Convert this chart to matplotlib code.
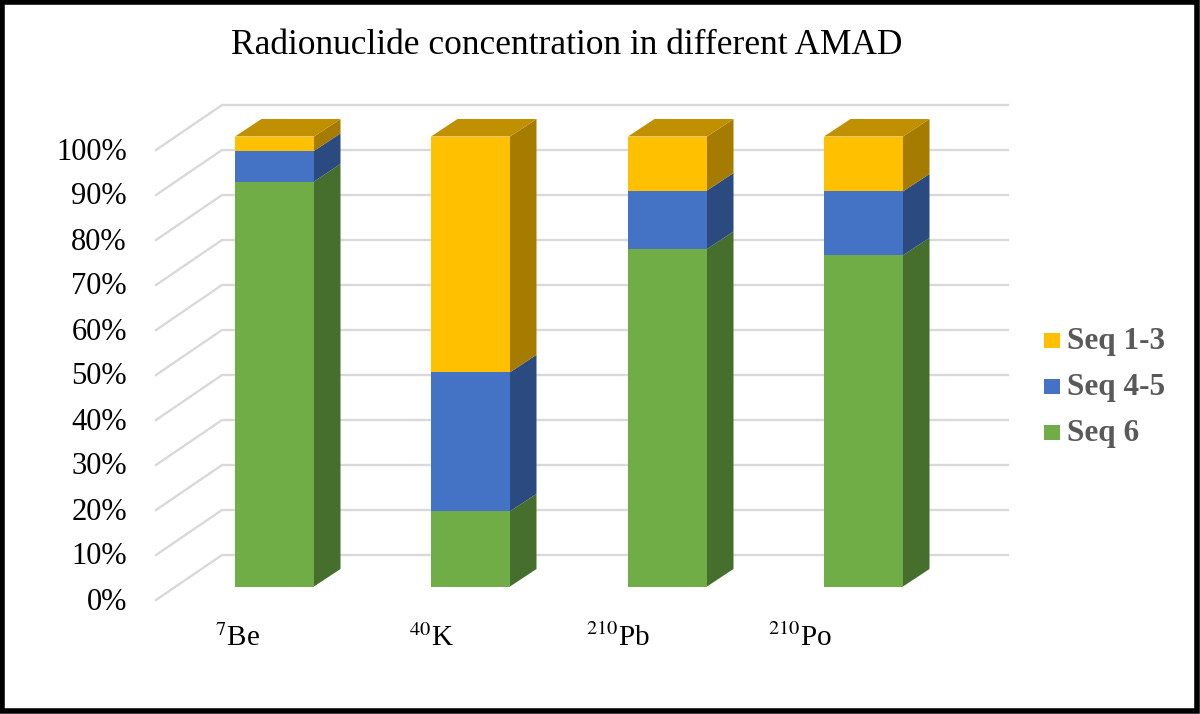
import matplotlib
matplotlib.use("Agg")
import matplotlib.pyplot as plt
from matplotlib.patches import Polygon, Rectangle

categories = ["$^{7}$Be", "$^{40}$K", "$^{210}$Pb", "$^{210}$Po"]
series_names = ["Seq 6", "Seq 4-5", "Seq 1-3"]
seq6 = [90, 16.7, 75, 73.6]
seq45 = [6.8, 30.9, 13, 14.2]
seq13 = [3.2, 52.4, 12, 12.2]
ticks = list(range(0, 101, 10))
front = ["#70AD47", "#4472C4", "#FFC000"]
side = ["#466E2C", "#2A4A80", "#A67C00"]
top = "#C09000"

W, H = 1200, 714
plt.rcParams['font.family'] = ['Liberation Serif', 'DejaVu Serif']
plt.rcParams['mathtext.fontset'] = 'stix'
fig = plt.figure(figsize=(W/100, H/100), dpi=100)
ax = fig.add_axes([0, 0, 1, 1])
ax.set_xlim(0, W); ax.set_ylim(H, 0); ax.axis("off")
ax.add_patch(Rectangle((2, 2), W-5, H-5, fill=False, ec="black", lw=4))

y0, y100 = 586.5, 136.5
dx, dy = 26.5, -17.5
def Y(v): return y0 + (y100 - y0) * v / 100
def G(v): return 555 - 450 * v / 100

# floor/wall gridlines
for t in ticks:
    g = G(t)
    ax.plot([156, 222, 1008], [g + 45, g, g], color="#D9D9D9", lw=1.7, zorder=1)
    ax.text(127, Y(t) + 15.5, f"{t}%", ha="right", va="center", fontsize=22, color="black")

lefts = [235, 431, 628, 824]
bw = 79
for i, l in enumerate(lefts):
    b = 0
    for vals, f, s in zip((seq6, seq45, seq13), front, side):
        v = vals[i]
        y1, y2 = Y(b), Y(b + v)
        ax.add_patch(Rectangle((l, y2), bw, y1 - y2, fc=f, ec="none", zorder=3))
        ax.add_patch(Polygon([(l+bw, y1), (l+bw+dx, y1+dy), (l+bw+dx, y2+dy), (l+bw, y2)], fc=s, ec="none", zorder=3))
        b += v
    yt = Y(b)
    ax.add_patch(Polygon([(l, yt), (l+dx, yt+dy), (l+bw+dx, yt+dy), (l+bw, yt)], fc=top, ec="none", zorder=3))

for x, c in zip([238, 431, 618, 800], categories):
    ax.text(x, 638, c, ha="center", va="center", fontsize=21, color="black")

ax.text(567, 46, "Radionuclide concentration in different AMAD", ha="center", va="center", fontsize=25.5, color="black")

for y, name, c in zip([432, 386, 340], series_names, front):
    ax.add_patch(Rectangle((1044, y-7), 16, 15, fc=c, ec="none"))
    ax.text(1067, y + 2, name, ha="left", va="center", fontsize=22.5, fontweight="bold", color="#595959")

fig.savefig("out.png", dpi=100)
